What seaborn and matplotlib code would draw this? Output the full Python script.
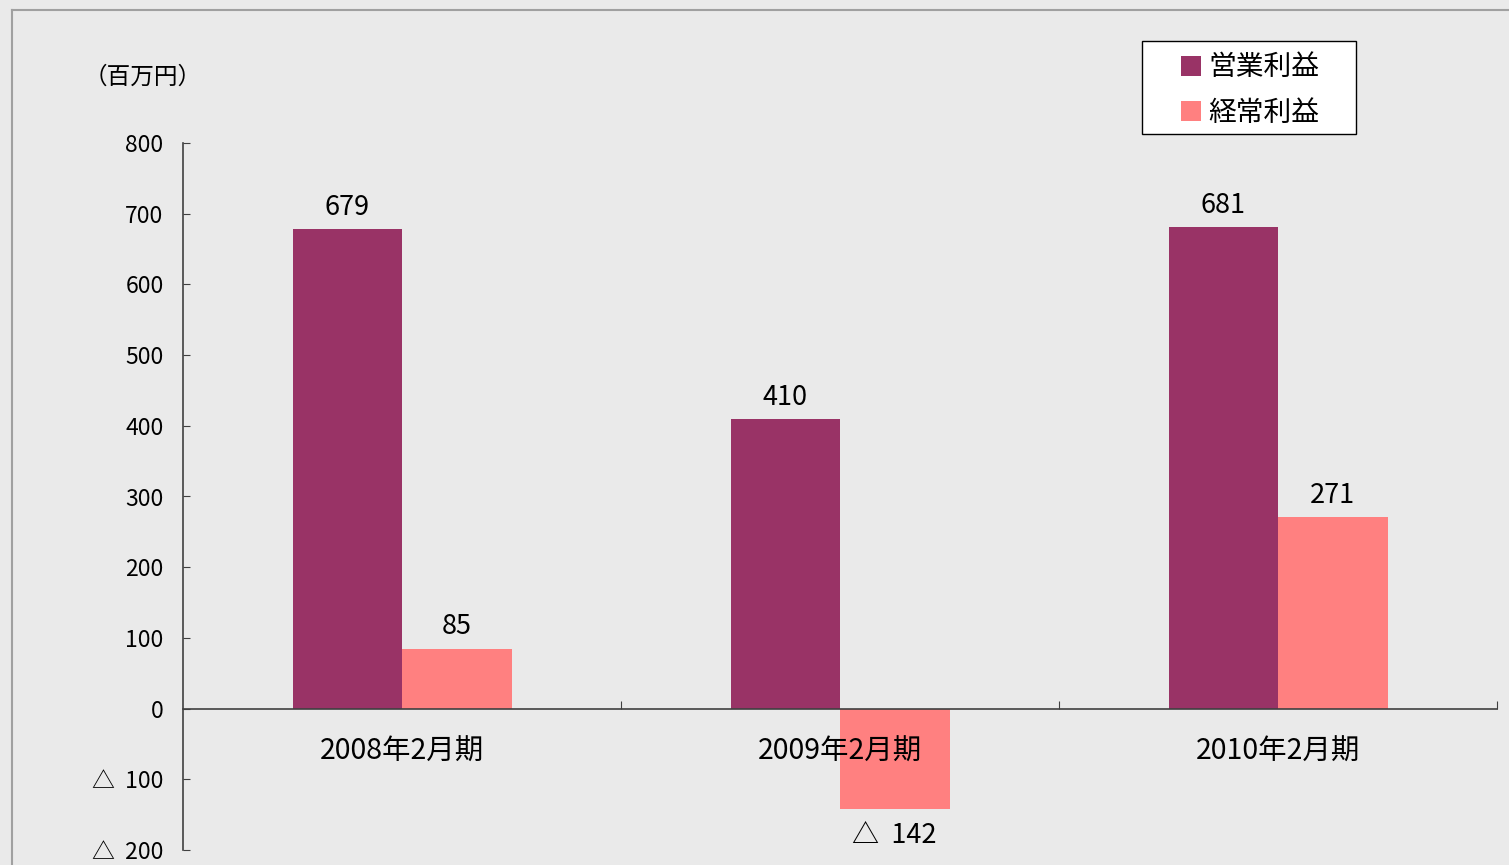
import pandas as pd
import numpy as np
import seaborn as sns
import matplotlib.pyplot as plt
from matplotlib.patches import Patch, Rectangle
from matplotlib.lines import Line2D
from matplotlib.ticker import FuncFormatter, FixedLocator

# dati (百万円)
periodi = ['2008年2月期', '2009年2月期', '2010年2月期']
serie = ['営業利益', '経常利益']
eigyo = [679, 410, 681]
keijo = [85, -142, 271]
colori = ['#993366', '#FF8080']

df = pd.DataFrame({
    '期': periodi * 2,
    '種類': [serie[0]] * 3 + [serie[1]] * 3,
    '値': eigyo + keijo,
})

plt.rcParams['font.family'] = ['Noto Sans CJK JP', 'DejaVu Sans']
sfondo = '#EAEAEA'
W, H = 1509, 865

fig = plt.figure(figsize=(15.09, 8.65), dpi=100, facecolor=sfondo)
ax = fig.add_axes([183 / W, 1 - 850 / H, (1497 - 183) / W, (850 - 143) / H])
ax.set_facecolor(sfondo)

sns.barplot(data=df, x='期', y='値', hue='種類', order=periodi, hue_order=serie,
            palette=colori, width=0.5, saturation=1, errorbar=None, ax=ax, legend=False)

ax.set_ylim(-200, 800)
ax.set_xlim(-0.5, 2.5)
ax.set_xlabel('')
ax.set_ylabel('')

# etichette dei valori
for cont in ax.containers:
    for b in cont:
        v = b.get_height()
        if v < 0:
            ax.annotate('△  %d' % abs(v), (b.get_x() + b.get_width() / 2, v),
                        xytext=(0, -19), textcoords='offset points',
                        ha='center', va='center', fontsize=19.5)
        else:
            ax.annotate('%d' % v, (b.get_x() + b.get_width() / 2, v),
                        xytext=(0, 15.5), textcoords='offset points',
                        ha='center', va='center', fontsize=19.5)

# assi
for s in ['top', 'right']:
    ax.spines[s].set_visible(False)
ax.spines['bottom'].set_position(('data', 0))
for s in ['bottom', 'left']:
    ax.spines[s].set_color('#404040')
    ax.spines[s].set_linewidth(1.2)

ax.set_yticks(np.arange(-200, 801, 100))
ax.yaxis.set_major_formatter(FuncFormatter(lambda v, p: '△  %d' % abs(v) if v < 0 else '%d' % v))
ax.tick_params(axis='y', direction='in', length=5, pad=14, labelsize=16.5, color='#404040')

ax.xaxis.set_major_locator(FixedLocator([0.5, 1.5, 2.5]))
ax.xaxis.set_major_formatter(FuncFormatter(lambda v, p: ''))
ax.xaxis.set_minor_locator(FixedLocator([0, 1, 2]))
ax.set_xticklabels(periodi, minor=True)
ax.tick_params(axis='x', which='major', direction='in', length=6, color='#404040')
ax.tick_params(axis='x', which='minor', length=0, pad=20, labelsize=20.5)
ax.set_axisbelow(False)

fig.text(143 / W, 1 - 77 / H, '（百万円）', fontsize=17, ha='center', va='center')

# legenda
fig.add_artist(Rectangle((1142 / W, 1 - 134 / H), (1356 - 1142) / W, (134 - 41) / H,
                         transform=fig.transFigure, facecolor='white',
                         edgecolor='black', lw=1.0))
maniglie = [Patch(facecolor=c, edgecolor='none') for c in colori]
leg = fig.legend(maniglie, serie, loc='center', bbox_to_anchor=(1250 / W, 1 - 90 / H),
                 fontsize=20, frameon=False,
                 handlelength=0.72, handleheight=0.72, handletextpad=0.25,
                 labelspacing=0.55, borderpad=0, borderaxespad=0)

# cornice
fig.add_artist(Line2D([12 / W, 12 / W], [0, 1 - 10 / H], transform=fig.transFigure,
                      color='#A0A0A0', lw=1.5))
fig.add_artist(Line2D([12 / W, 1], [1 - 10 / H, 1 - 10 / H], transform=fig.transFigure,
                      color='#A0A0A0', lw=1.5))

plt.savefig('out.png', dpi=100, facecolor=sfondo)
